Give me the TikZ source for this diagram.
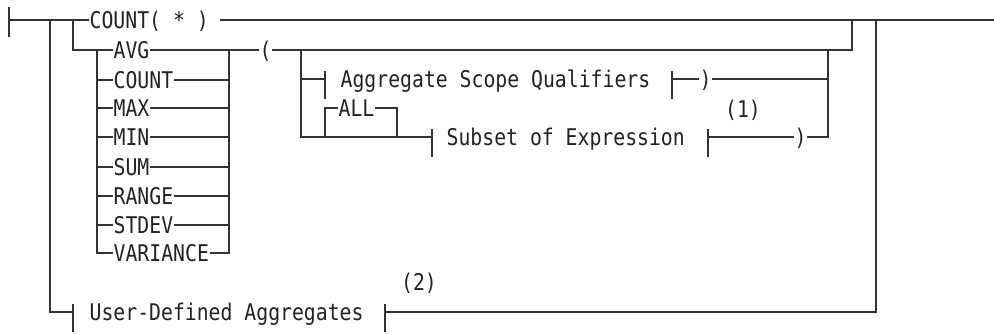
\documentclass[tikz,border=0pt]{standalone}
\usepackage{fontspec}
\usepackage{xcolor}
\usepackage{tikz}
\usetikzlibrary{positioning, calc}
\newfontfamily\railfont[FakeStretch=0.86]{DejaVu Sans Mono}
\definecolor{railline}{HTML}{333333}
\definecolor{railtext}{HTML}{222222}
\newcommand{\barup}{8pt}
\newcommand{\bardown}{20pt}
\tikzset{
    kw/.style = {anchor=west, inner sep=0pt, text height=16.8pt, text depth=0pt, text=railtext, font=\railfont\fontsize{23}{25}\selectfont},
    note/.style = {inner sep=0pt, text=railtext, font=\railfont\fontsize{23}{25}\selectfont},
    rail/.style = {draw=railline, line width=1.3pt},
}

\begin{document}
\begin{tikzpicture}[x=1pt, y=-1pt, rail]
        \useasboundingbox (0,0) rectangle (994,333);
        % Junctions
        \coordinate (start) at (9,20);
        \coordinate (ja) at (50,20);
        \coordinate (jb) at (73,20);
        \coordinate (jc) at (852,20);
        \coordinate (jd) at (876,20);
        \coordinate (finish) at (994,20);
        \coordinate (kl) at (97,50);
        \coordinate (kr) at (229,50);
        \coordinate (pl) at (301,50);
        \coordinate (pr) at (828,50);
        \coordinate (al) at (325,137);
        \coordinate (ar) at (397,137);
        \coordinate (abar1) at (325,79);
        \coordinate (abar2) at (672,79);
        \coordinate (sbar1) at (432,137);
        \coordinate (sbar2) at (708,137);
        \coordinate (ubar1) at (73,312);
        \coordinate (ubar2) at (385,312);
        % Top row
        \node (countstar) [kw] at (89,20) {COUNT( * )};
        % Keywords
        \node (avg) [kw] at (113,50) {AVG};
        \node (count) [kw] at (113,80) {COUNT};
        \node (max) [kw] at (113,108) {MAX};
        \node (min) [kw] at (113,137) {MIN};
        \node (sum) [kw] at (113,167) {SUM};
        \node (range) [kw] at (113,196) {RANGE};
        \node (stdev) [kw] at (113,225) {STDEV};
        \node (variance) [kw] at (113,253) {VARIANCE};
        % Parenthesised part
        \node (lparen) [kw] at (259,50) {(};
        \node (asq) [kw] at (340,79) {Aggregate Scope Qualifiers};
        \node (rparen1) [kw] at (699,79) {)};
        \node (all) [kw] at (338,108) {ALL};
        \node (subset) [kw] at (446,137) {Subset of Expression};
        \node (rparen2) [kw] at (794,137) {)};
        \node (note1) [note] at (743,110) {(1)};
        % User-defined
        \node (udef) [kw] at (89,312) {User-Defined Aggregates};
        \node (note2) [note] at (419,283) {(2)};

        % Main line
        \draw ([yshift=13pt]start) -- ([yshift=-17pt]start);
        \draw (start) -- (countstar.west);
        \draw ([xshift=11pt]countstar.east) -- (finish);
        \draw (jc) -- (jc |- lparen.west) -- (lparen.east);
        \draw (ja) -- (ja |- udef.west) -- (ubar1);
        \draw (jb) -- (jb |- avg.west) -- (avg.west);
        % Keyword links
        \draw (avg.east) -- (lparen.west);
        \draw (kl |- count.west) -- (count.west);
        \draw (kl |- max.west) -- (max.west);
        \draw (kl |- min.west) -- (min.west);
        \draw (kl |- sum.west) -- (sum.west);
        \draw (kl |- range.west) -- (range.west);
        \draw (kl |- stdev.west) -- (stdev.west);
        \draw (kl) -- (kl |- variance.west) -- (variance.west);
        \draw (count.east) -- (kr |- count.west);
        \draw (max.east) -- (kr |- max.west);
        \draw (min.east) -- (kr |- min.west);
        \draw (sum.east) -- (kr |- sum.west);
        \draw (range.east) -- (kr |- range.west);
        \draw (stdev.east) -- (kr |- stdev.west);
        \draw (variance.east) -- (kr |- variance.west) -- (kr);
        % Scope qualifiers
        \draw (pl) -- (pl |- subset.west) -- (sbar1);
        \draw (pl |- asq.west) -- (abar1);
        \draw ([yshift=\barup]abar1) -- ([yshift=-\bardown]abar1);
        \draw ([yshift=\barup]abar2) -- ([yshift=-\bardown]abar2);
        \draw (abar2) -- (rparen1.west);
        \draw (rparen1.east) -- (pr |- rparen1.west);
        % ALL
        \draw (al) -- (al |- all.west) -- (all.west);
        \draw (all.east) -- (ar |- all.west) -- (ar);
        % Subset of expression
        \draw ([yshift=\barup]sbar1) -- ([yshift=-\bardown]sbar1);
        \draw ([yshift=\barup]sbar2) -- ([yshift=-\bardown]sbar2);
        \draw (sbar2) -- (rparen2.west);
        \draw (rparen2.east) -- (pr |- rparen2.west) -- (pr);
        % User-defined aggregates
        \draw ([yshift=\barup]ubar1) -- ([yshift=-\bardown]ubar1);
        \draw ([yshift=\barup]ubar2) -- ([yshift=-\bardown]ubar2);
        \draw (ubar2) -- (jd |- udef.west) -- (jd);
    \end{tikzpicture}
\end{document}
